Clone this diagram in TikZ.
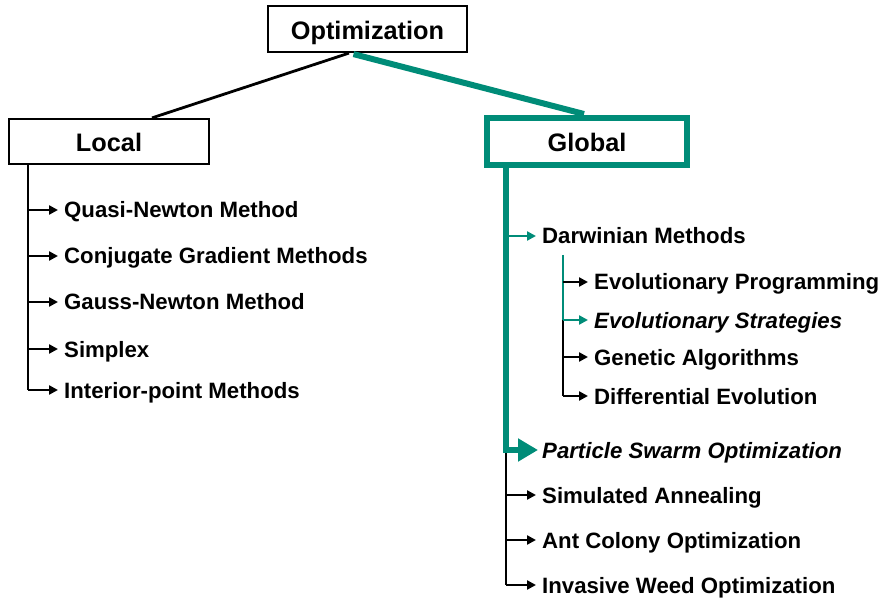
\documentclass[tikz,border=0pt]{standalone}
\usepackage{fontspec}
\setmainfont{Liberation Sans}
\usetikzlibrary{arrows.meta,calc}
\definecolor{tealg}{RGB}{0,140,120}
\begin{document}
\begin{tikzpicture}[x=1pt,y=-1pt,
  box/.style={draw=black, line width=2.2pt, fill=white, inner sep=0pt,
    text height=21pt, text depth=0pt,
    font=\fontsize{25.3}{28}\selectfont\bfseries},
  item/.style={anchor=west, inner sep=0pt, text height=16pt, text depth=0pt,
    font=\fontsize{22.2}{26}\selectfont\bfseries},
  conn/.style={line width=2.8pt},
  arr/.style={line width=2.8pt, -{Triangle[length=9pt,width=9pt]}, shorten >=6pt},
  garr/.style={arr, draw=tealg},
]
\useasboundingbox (0,0) rectangle (880,601);

% top boxes
\node[box, minimum width=199pt, minimum height=46pt] (opt) at (367.5,29) {Optimization};
\node[box, minimum width=200pt, minimum height=45pt] (loc) at (109,141.5) {Local};
\node[box, draw=tealg, line width=6pt, minimum width=200pt, minimum height=47pt] (glob) at (587,141.5) {Global};

% connectors from Optimization
\draw[conn] ($(opt.south)+(-18.5,0)$) -- ($(loc.north)+(43,0)$);
\draw[line width=6pt, draw=tealg] ($(opt.south)+(-14,1)$) -- ($(glob.north)+(-3,-1)$);

% local items
\node[item] (qn) at (64,210) {Quasi-Newton Method};
\node[item] (cg) at (64,256) {Conjugate Gradient Methods};
\node[item] (gn) at (64,302) {Gauss-Newton Method};
\node[item] (sx) at (64,349) {Simplex};
\node[item] (ip) at (64,390) {Interior-point Methods};

\coordinate (lt) at (28,165);
\draw[conn] (lt) -- (lt |- ip.west);
\foreach \n in {qn,cg,gn,sx,ip}
  \draw[arr] (lt |- \n.west) -- (\n.west);

% global items
\node[item] (dw) at (542,236) {Darwinian Methods};
\node[item] (ep) at (594,282) {Evolutionary Programming};
\node[item] (es) at (594,320) {\itshape Evolutionary Strategies};
\node[item] (ga) at (594,357) {Genetic Algorithms};
\node[item] (de) at (594,396) {Differential Evolution};
\node[item] (pso) at (542,450) {\itshape Particle Swarm Optimization};
\node[item] (sa) at (542,495) {Simulated Annealing};
\node[item] (aco) at (542,540) {Ant Colony Optimization};
\node[item] (iwo) at (542,585) {Invasive Weed Optimization};

\coordinate (gt) at (506,167);
\coordinate (st) at (563,255);

% green trunk to PSO
\draw[tealg, line width=6pt] (gt) -- (gt |- pso.west) -- ++(10,0);
\draw[tealg, line width=6pt, -{Triangle[length=20pt,width=22pt]}, shorten >=4pt]
  ($(gt |- pso.west)+(8,0)$) -- (pso.west);
\draw[garr] (gt |- dw.west) -- (dw.west);

% black trunk below PSO
\draw[conn] ($(gt |- pso.west)+(0,3)$) -- (gt |- iwo.west);
\foreach \n in {sa,aco,iwo}
  \draw[arr] (gt |- \n.west) -- (\n.west);

% darwinian subtree
\draw[conn, draw=tealg] (st) -- (st |- es.west);
\draw[conn] (st |- es.west) -- (st |- de.west);
\draw[garr] (st |- es.west) -- (es.west);
\foreach \n in {ep,ga,de}
  \draw[arr] (st |- \n.west) -- (\n.west);
\end{tikzpicture}
\end{document}
